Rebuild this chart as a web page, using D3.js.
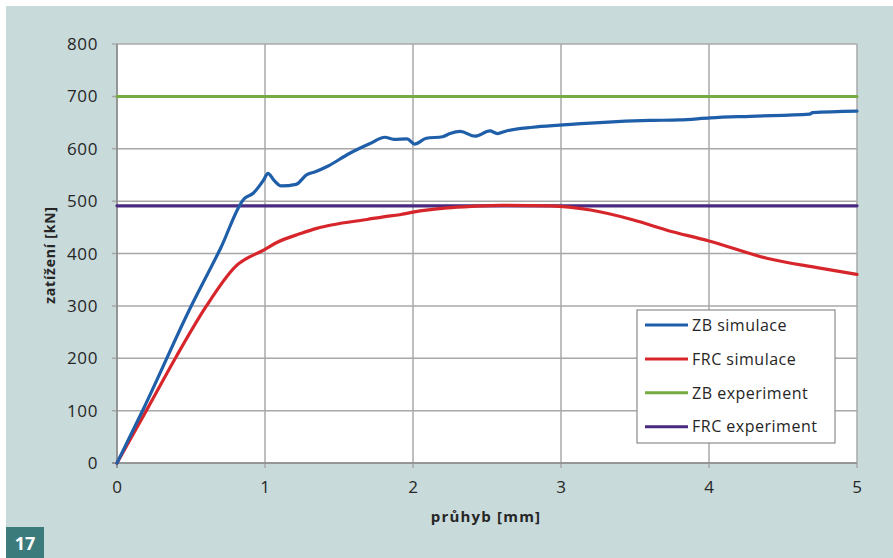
<!doctype html>
<html lang="cs">
<head>
<meta charset="utf-8">
<title>zatížení vs průhyb</title>
<script src="https://d3js.org/d3.v7.min.js"></script>
<style>
  html, body { margin: 0; padding: 0; background: #fff; }
  svg { display: block; }
  text { font-family: "Open Sans", sans-serif; fill: #262626; }
</style>
</head>
<body>
<div id="chart"></div>
<script>
// ZB simulace (blue)
const zbX = [0, 0.18, 0.49, 0.70, 0.86, 0.92, 0.99, 1.02, 1.06, 1.11, 1.21, 1.28, 1.34, 1.42, 1.57, 1.71, 1.81, 1.87, 1.96, 2.01, 2.09, 2.20, 2.25, 2.32, 2.42, 2.52, 2.57, 2.63, 2.81, 2.99, 3.26, 3.60, 3.80, 4.01, 4.28, 4.68, 4.70, 5.00];
const zbY = [0, 104, 293, 410, 505, 515, 540, 553, 540, 529, 532, 550, 556, 566, 591, 610, 622, 618, 619, 609, 620, 623, 629, 633, 624, 634, 629, 634, 641, 645, 650, 654, 655, 659, 662, 666, 669, 672];

// FRC simulace (red)
const frcX = [0, 0.2, 0.4, 0.6, 0.8, 1.0, 1.08, 1.24, 1.35, 1.46, 1.69, 1.8, 1.91, 2.0, 2.23, 2.4, 2.6, 2.93, 3.2, 3.49, 3.71, 4.0, 4.39, 4.73, 5.0];
const frcY = [0, 101, 203, 298, 375, 408, 421, 438, 448, 455, 465, 470, 474, 479, 487, 490, 492, 491, 483, 464, 445, 424, 391, 373, 360];

// experiments (constant)
const zbExpX = [0, 5];
const zbExpY = [700, 700];
const frcExpX = [0, 5];
const frcExpY = [491, 491];

const xTicks = [0, 1, 2, 3, 4, 5];
const yTicks = [0, 100, 200, 300, 400, 500, 600, 700, 800];

const seriesNames = ["ZB simulace", "FRC simulace", "ZB experiment", "FRC experiment"];
const seriesColors = ["#1f5ea8", "#d7262b", "#76ab44", "#4a2a80"];

const W = 893, H = 558;
const m = { left: 117, right: 36, top: 44, bottom: 95 };

const svg = d3.select("#chart").append("svg")
  .attr("width", W).attr("height", H);

// panel background
svg.append("rect").attr("x", 6).attr("y", 6).attr("width", W - 6).attr("height", H - 6)
  .attr("fill", "#c8dada");

const x = d3.scaleLinear().domain([0, 5]).range([m.left, W - m.right]);
const y = d3.scaleLinear().domain([0, 800]).range([H - m.bottom, m.top]);

// plot area
svg.append("rect")
  .attr("x", x(0)).attr("y", y(800))
  .attr("width", x(5) - x(0)).attr("height", y(0) - y(800))
  .attr("fill", "#fff");

// grid
svg.append("g").selectAll("line").data(yTicks).join("line")
  .attr("x1", x(0) - 5).attr("x2", x(5))
  .attr("y1", d => y(d)).attr("y2", d => y(d))
  .attr("stroke", "#a8a8a8").attr("stroke-width", 1.5);
svg.append("g").selectAll("line").data(xTicks).join("line")
  .attr("x1", d => x(d)).attr("x2", d => x(d))
  .attr("y1", y(800)).attr("y2", y(0) + 5)
  .attr("stroke", "#a8a8a8").attr("stroke-width", 1.5);

// axes lines
svg.append("line").attr("x1", x(0)).attr("x2", x(0)).attr("y1", y(800)).attr("y2", y(0) + 5)
  .attr("stroke", "#8a8a8a").attr("stroke-width", 1.5);
svg.append("line").attr("x1", x(0) - 5).attr("x2", x(5)).attr("y1", y(0)).attr("y2", y(0))
  .attr("stroke", "#8a8a8a").attr("stroke-width", 1.5);

// tick labels
svg.append("g").selectAll("text").data(yTicks).join("text")
  .attr("x", 98).attr("y", d => y(d)).attr("dy", "0.36em")
  .attr("text-anchor", "end")
  .style("font-size", "17px").style("letter-spacing", "0.6px")
  .text(d => d);
svg.append("g").selectAll("text").data(xTicks).join("text")
  .attr("x", d => x(d)).attr("y", 493)
  .attr("text-anchor", "middle")
  .style("font-size", "17px")
  .text(d => d);

// axis titles
svg.append("text")
  .attr("x", 486).attr("y", 522)
  .attr("text-anchor", "middle")
  .style("font-size", "15px").style("font-weight", "bold").style("letter-spacing", "1.2px")
  .text("průhyb [mm]");
svg.append("text")
  .attr("transform", "translate(55,255) rotate(-90)")
  .attr("text-anchor", "middle")
  .style("font-size", "14px").style("font-weight", "bold").style("letter-spacing", "0.8px")
  .text("zatížení [kN]");

// series
const line = d3.line().x(d => x(d[0])).y(d => y(d[1])).curve(d3.curveMonotoneX);
const series = [
  { xs: zbExpX, ys: zbExpY, c: seriesColors[2], w: 3 },
  { xs: frcExpX, ys: frcExpY, c: seriesColors[3], w: 3.2 },
  { xs: frcX, ys: frcY, c: seriesColors[1], w: 3.2 },
  { xs: zbX, ys: zbY, c: seriesColors[0], w: 3.2 }
];
series.forEach(s => {
  const pts = s.xs.map((v, i) => [v, s.ys[i]]);
  svg.append("path").datum(pts)
    .attr("d", line)
    .attr("fill", "none").attr("stroke", s.c).attr("stroke-width", s.w)
    .attr("stroke-linejoin", "round").attr("stroke-linecap", "round");
});

// legend
const lg = svg.append("g");
lg.append("rect").attr("x", 637).attr("y", 310).attr("width", 198).attr("height", 133)
  .attr("fill", "#fff").attr("stroke", "#8c8c8c").attr("stroke-width", 1.2);
seriesNames.forEach((n, i) => {
  const yy = 325 + i * 33.9;
  lg.append("line").attr("x1", 645).attr("x2", 688).attr("y1", yy).attr("y2", yy)
    .attr("stroke", seriesColors[i]).attr("stroke-width", 3);
  lg.append("text").attr("x", 692).attr("y", yy).attr("dy", "0.36em")
    .style("font-size", "16px").style("letter-spacing", "0.5px")
    .text(n);
});

// figure number
svg.append("rect").attr("x", 6).attr("y", 527).attr("width", 38).attr("height", 31)
  .attr("fill", "#3b7b7b");
svg.append("text").attr("x", 25).attr("y", 550).attr("text-anchor", "middle")
  .style("font-size", "18px").style("font-weight", "bold").style("fill", "#fff")
  .text("17");
</script>
</body>
</html>
